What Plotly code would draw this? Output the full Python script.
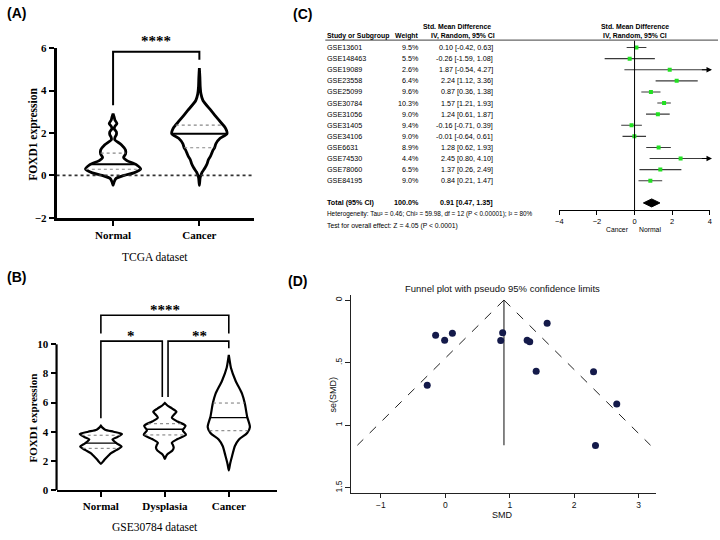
import numpy as np
import plotly.graph_objects as go

W, H = 720, 540

# ---------------- Panel A data (TCGA) ----------------
A_groups = ["Normal", "Cancer"]
A_normal_y = [-0.47, -0.3, -0.15, 0.0, 0.12, 0.3, 0.5, 0.7, 0.85, 1.0, 1.2, 1.45, 1.68, 1.8, 1.92, 2.05, 2.2, 2.3, 2.45, 2.6, 2.75, 2.91]
A_normal_d = [0.0, 0.04, 0.1, 0.4, 0.75, 1.0, 0.85, 0.5, 0.38, 0.45, 0.45, 0.3, 0.06, 0.07, 0.12, 0.12, 0.04, 0.06, 0.14, 0.07, 0.04, 0.0]
A_cancer_y = [-0.47, -0.1, 0.15, 0.35, 0.55, 0.75, 0.9, 1.05, 1.2, 1.3, 1.5, 1.75, 1.96, 2.22, 2.6, 3.06, 3.53, 3.83, 4.2, 4.6, 5.06]
A_cancer_d = [0.0, 0.03, 0.1, 0.2, 0.28, 0.33, 0.4, 0.45, 0.5, 0.55, 0.6, 0.75, 1.0, 0.95, 0.71, 0.42, 0.13, 0.06, 0.03, 0.02, 0.0]
A_median = [0.53, 1.96]
A_q1 = [0.29, 1.30]
A_q3 = [1.05, 2.37]

# ---------------- Panel B data (GSE30784) ----------------
B_groups = ["Normal", "Dysplasia", "Cancer"]
B_normal_y = [1.79, 1.95, 2.13, 2.35, 2.53, 2.75, 2.98, 3.2, 3.47, 3.65, 3.85, 4.0, 4.14, 4.3, 4.41]
B_normal_d = [0.0, 0.1, 0.2, 0.35, 0.48, 0.75, 0.98, 0.75, 0.55, 0.8, 1.0, 0.6, 0.2, 0.06, 0.0]
B_dys_y = [2.13, 2.3, 2.46, 2.7, 2.91, 3.1, 3.24, 3.5, 3.8, 4.09, 4.41, 4.7, 4.97, 5.2, 5.37, 5.59, 5.8, 5.97]
B_dys_d = [0.0, 0.05, 0.12, 0.35, 0.42, 0.38, 0.33, 0.6, 1.0, 0.85, 0.98, 0.6, 0.33, 0.45, 0.55, 0.35, 0.12, 0.0]
B_cancer_y = [1.34, 1.79, 2.35, 3.02, 3.47, 3.91, 4.32, 5.03, 5.93, 6.6, 7.5, 8.39, 8.9, 9.28]
B_cancer_d = [0.0, 0.06, 0.16, 0.29, 0.48, 0.87, 1.0, 0.87, 0.76, 0.63, 0.32, 0.1, 0.04, 0.0]
B_median = [3.22, 4.17, 4.97]
B_q1 = [2.86, 3.78, 4.07]
B_q3 = [3.76, 4.55, 5.97]

# ---------------- Panel C data (forest) ----------------
studies = ["GSE13601", "GSE148463", "GSE19089", "GSE23558", "GSE25099", "GSE30784", "GSE31056",
           "GSE31405", "GSE34106", "GSE6631", "GSE74530", "GSE78060", "GSE84195"]
weights = [9.5, 5.5, 2.6, 6.4, 9.6, 10.3, 9.0, 9.4, 9.0, 8.9, 4.4, 6.5, 9.0]
smd = [0.10, -0.26, 1.87, 2.24, 0.87, 1.57, 1.24, -0.16, -0.01, 1.28, 2.45, 1.37, 0.84]
ci_lo = [-0.42, -1.59, -0.54, 1.12, 0.36, 1.21, 0.61, -0.71, -0.64, 0.62, 0.80, 0.26, 0.21]
ci_hi = [0.63, 1.08, 4.27, 3.36, 1.38, 1.93, 1.87, 0.39, 0.61, 1.93, 4.10, 2.49, 1.47]
pooled, pooled_lo, pooled_hi = 0.91, 0.47, 1.35
forest_ticks = [-4, -2, 0, 2, 4]

# ---------------- Panel D data (funnel) ----------------
funnel_smd = [-0.15, -0.01, 0.11, -0.28, 0.89, 0.86, 1.27, 1.31, 1.58, 1.41, 2.30, 2.66, 2.33]
funnel_se = [0.282, 0.321, 0.266, 0.681, 0.261, 0.324, 0.321, 0.334, 0.185, 0.569, 0.572, 0.830, 1.162]
funnel_max_se = 1.16

fig = go.Figure()

def px_x(p):
    return p / W

def px_y(p):
    return 1 - p / H

def violin(center, ys, dens, half, xa, ya, lw):
    ys = np.array(ys, float)
    d = np.array(dens, float)
    xs = np.concatenate([center + half * d, (center - half * d)[::-1]])
    yy = np.concatenate([ys, ys[::-1]])
    fig.add_trace(go.Scatter(x=xs, y=yy, mode="lines", fill="toself", fillcolor="white",
                             line=dict(color="black", width=lw, shape="spline", smoothing=0.7),
                             xaxis=xa, yaxis=ya, showlegend=False, hoverinfo="skip"))

def hline_in_violin(center, ys, dens, half, yv, xa, ya, color, width, dash):
    w = half * np.interp(yv, ys, dens)
    fig.add_trace(go.Scatter(x=[center - w, center + w], y=[yv, yv], mode="lines",
                             line=dict(color=color, width=width, dash=dash),
                             xaxis=xa, yaxis=ya, showlegend=False, hoverinfo="skip"))

SERIF = "Liberation Serif"
SANS = "Liberation Sans"
CF = 7.2  # forest text size

# ---------- Panel A ----------
A_half = 0.32
A_prof = [(A_normal_y, A_normal_d), (A_cancer_y, A_cancer_d)]
A_xr = [-0.655, 1.632]
fig.add_shape(type="line", xref="x", yref="y", x0=A_xr[0], x1=A_xr[1], y0=0, y1=0,
              line=dict(color="#333", width=1.6, dash="dot"))
for i, (ys, ds) in enumerate(A_prof):
    violin(i, ys, ds, A_half, "x", "y", 2.8)
    for q in (A_q1[i], A_q3[i]):
        hline_in_violin(i, ys, ds, A_half, q, "x", "y", "#888", 1.1, "dot")
    hline_in_violin(i, ys, ds, A_half, A_median[i], "x", "y", "black", 2.0, "solid")
fig.add_trace(go.Scatter(x=[0, 0, 1, 1], y=[3.3, 5.83, 5.83, 5.45], mode="lines",
                         line=dict(color="black", width=2), xaxis="x", yaxis="y",
                         showlegend=False, hoverinfo="skip"))

# ---------- Panel B ----------
B_half = 0.33
B_prof = [(B_normal_y, B_normal_d), (B_dys_y, B_dys_d), (B_cancer_y, B_cancer_d)]
B_xr = [-0.693, 2.749]
B_yr = [0, 12.8]
for i, (ys, ds) in enumerate(B_prof):
    violin(i, ys, ds, B_half, "x2", "y2", 2.2)
    for q in (B_q1[i], B_q3[i]):
        hline_in_violin(i, ys, ds, B_half, q, "x2", "y2", "#777", 1.0, "dot")
    hline_in_violin(i, ys, ds, B_half, B_median[i], "x2", "y2", "black", 1.3, "solid")
brackets_B = [
    ([0, 0, 2, 2], [10.74, 12.0, 12.0, 10.74]),
    ([0, 0, 0.96, 0.96], [4.92, 10.22, 10.22, 6.38]),
    ([1.05, 1.05, 2, 2], [6.38, 10.22, 10.22, 9.73]),
]
for bx, by in brackets_B:
    fig.add_trace(go.Scatter(x=bx, y=by, mode="lines", line=dict(color="black", width=1.6),
                             xaxis="x2", yaxis="y2", showlegend=False, hoverinfo="skip"))
fig.add_shape(type="line", xref="x2 domain", yref="y2 domain", x0=0, x1=0, y0=0, y1=10 / B_yr[1],
              line=dict(color="black", width=2.2))

# ---------- Panel C: forest ----------
rows = list(range(len(studies)))
total_row = len(studies) + 1
for r, l, h in zip(rows, ci_lo, ci_hi):
    fig.add_trace(go.Scatter(x=[l, h], y=[r, r], mode="lines", line=dict(color="#3a3a3a", width=1.1),
                             xaxis="x3", yaxis="y3", showlegend=False, hoverinfo="skip"))
fig.add_trace(go.Scatter(x=smd, y=rows, mode="markers",
                         marker=dict(symbol="square", size=4, color="#22e022"),
                         xaxis="x3", yaxis="y3", showlegend=False, hoverinfo="skip"))
fig.add_trace(go.Scatter(x=[pooled_lo, pooled, pooled_hi, pooled, pooled_lo],
                         y=[total_row, total_row - 0.36, total_row, total_row + 0.36, total_row],
                         mode="lines", fill="toself", fillcolor="black", line=dict(color="black", width=1),
                         xaxis="x3", yaxis="y3", showlegend=False, hoverinfo="skip"))
fig.add_shape(type="line", xref="x3", yref="y3", x0=0, x1=0, y0=-0.66, y1=14.67,
              line=dict(color="black", width=1))
ann = []
xmax_c = forest_ticks[-1]
for r, l, h in zip(rows, ci_lo, ci_hi):
    if h > xmax_c:
        ann.append(dict(x=xmax_c + 0.12, y=r, xref="x3", yref="y3", ax=xmax_c - 0.5, ay=r,
                        axref="x3", ayref="y3", showarrow=True, arrowhead=2, arrowsize=1,
                        arrowwidth=1.1, arrowcolor="black", text=""))

def ctext(text, xpx, y, yref, anchor, bold=False, size=CF):
    ann.append(dict(text=text, x=px_x(xpx), y=y, xref="paper", yref=yref, xanchor=anchor,
                    yanchor="middle", showarrow=False,
                    font=dict(family=SANS, size=size, color="black", weight="bold" if bold else "normal")))

ctext("Std. Mean Difference", 493, px_y(21), "paper", "right", True, 6.9)
ctext("Study or Subgroup", 324, px_y(31), "paper", "left", True, 6.9)
ctext("Weight", 421, px_y(31), "paper", "right", True, 6.9)
ctext("IV, Random, 95% CI", 497, px_y(31), "paper", "right", True, 6.9)
ctext("Std. Mean Difference", 636, px_y(21), "paper", "center", True, 6.9)
ctext("IV, Random, 95% CI", 636, px_y(31), "paper", "center", True, 6.9)
for r, s, wt, m, l, h in zip(rows, studies, weights, smd, ci_lo, ci_hi):
    ctext(s, 324, r, "y3", "left")
    ctext(f"{wt:.1f}%", 421, r, "y3", "right")
    ctext(f"{m:.2f} [{l:.2f}, {h:.2f}]", 495, r, "y3", "right")
ctext("Total (95% CI)", 324, total_row, "y3", "left", True)
ctext("100.0%", 421, total_row, "y3", "right", True)
ctext(f"{pooled:.2f} [{pooled_lo:.2f}, {pooled_hi:.2f}]", 495, total_row, "y3", "right", True)
ctext("Heterogeneity: Tau² = 0.46; Chi² = 59.98, df = 12 (P < 0.00001); I² = 80%", 324, px_y(212.7), "paper", "left", size=6.4)
ctext("Test for overall effect: Z = 4.05 (P < 0.0001)", 324, px_y(225), "paper", "left", size=6.8)
ctext("Cancer", 619, px_y(229), "paper", "center", size=6.8)
ctext("Normal", 651, px_y(229), "paper", "center", size=6.8)
fig.add_shape(type="line", xref="paper", yref="paper", x0=px_x(324), x1=1, y0=px_y(35), y1=px_y(35),
              line=dict(color="#666", width=1.2))

# ---------- Panel D: funnel ----------
se_line = [0, funnel_max_se]
fig.add_trace(go.Scatter(x=[pooled - 1.96 * s for s in se_line], y=se_line, mode="lines",
                         line=dict(color="#222", width=1, dash="dash"), xaxis="x4", yaxis="y4",
                         showlegend=False, hoverinfo="skip"))
fig.add_trace(go.Scatter(x=[pooled + 1.96 * s for s in se_line], y=se_line, mode="lines",
                         line=dict(color="#222", width=1, dash="dash"), xaxis="x4", yaxis="y4",
                         showlegend=False, hoverinfo="skip"))
fig.add_trace(go.Scatter(x=[pooled, pooled], y=se_line, mode="lines",
                         line=dict(color="#222", width=1.1), xaxis="x4", yaxis="y4",
                         showlegend=False, hoverinfo="skip"))
fig.add_trace(go.Scatter(x=funnel_smd, y=funnel_se, mode="markers",
                         marker=dict(size=7, color="#141a4a"), xaxis="x4", yaxis="y4",
                         showlegend=False, hoverinfo="skip"))

# ---------- text annotations (A, B, D, panel labels) ----------
def ptext(text, xpx, ypx, font, angle=0, xanchor="center"):
    ann.append(dict(text=text, x=px_x(xpx), y=px_y(ypx), xref="paper", yref="paper", xanchor=xanchor,
                    yanchor="middle", textangle=angle, showarrow=False, font=font))

def lab(text, xpx, ypx):
    ptext(text, xpx, ypx, dict(family=SANS, size=14, color="black", weight="bold"), xanchor="left")

lab("(A)", 1, 7)
lab("(B)", 1, 277)
lab("(C)", 289, 8)
lab("(D)", 284, 281)

star_font = dict(family=SERIF, size=15, color="black", weight="bold")
ptext("****", 153, 36, star_font)
ptext("****", 162, 311, star_font)
ptext("*", 128, 337, star_font)
ptext("**", 197, 337, star_font)

ptext("FOXD1 expression", 29, 131, dict(family=SERIF, size=11.5, color="black", weight="bold"), angle=-90)
ptext("FOXD1 expression", 29, 421, dict(family=SERIF, size=11, color="black", weight="bold"), angle=-90)
ptext("TCGA dataset", 152, 257, dict(family=SERIF, size=11.5, color="black"))
ptext("GSE30784 dataset", 152, 533, dict(family=SERIF, size=11.5, color="black"))
ptext("Funnel plot with pseudo 95% confidence limits", 503, 289, dict(family=SANS, size=9.5, color="#111"))
ptext("SMD", 503, 521, dict(family=SANS, size=9, color="#111"))
ptext("se(SMD)", 332, 397, dict(family=SANS, size=9, color="#111"), angle=-90)

ab_tick = dict(family=SERIF, size=11, color="black", weight="bold")
fig.update_layout(
    width=W, height=H, margin=dict(l=0, r=0, t=0, b=0),
    paper_bgcolor="white", plot_bgcolor="white", showlegend=False,
    annotations=ann,
    xaxis=dict(domain=[px_x(53), px_x(252)], range=A_xr, tickvals=[0, 1], ticktext=A_groups,
               showline=True, linecolor="black", linewidth=2.6, ticks="outside", ticklen=5, tickwidth=2.4,
               tickcolor="black", tickfont=ab_tick, showgrid=False, zeroline=False, anchor="y"),
    yaxis=dict(domain=[px_y(216.7), px_y(43)], range=[-2, 6], tickvals=[-2, 0, 2, 4, 6],
               showline=True, linecolor="black", linewidth=2.6, ticks="outside", ticklen=5, tickwidth=2.4,
               tickcolor="black", tickfont=ab_tick, showgrid=False, zeroline=False, anchor="x"),
    xaxis2=dict(domain=[px_x(53), px_x(275)], range=B_xr, tickvals=[0, 1, 2], ticktext=B_groups,
                showline=True, linecolor="black", linewidth=2.2, ticks="outside", ticklen=5, tickwidth=2.2,
                tickcolor="black", tickfont=ab_tick, showgrid=False, zeroline=False, anchor="y2"),
    yaxis2=dict(domain=[px_y(495), px_y(304.3)], range=B_yr, tickvals=[0, 2, 4, 6, 8, 10],
                showline=False, ticks="outside", ticklen=5, tickwidth=2.2,
                tickcolor="black", tickfont=ab_tick, showgrid=False, zeroline=False, anchor="x2"),
    xaxis3=dict(domain=[px_x(560), px_x(711.7)], range=[-4, 4], tickvals=forest_ticks,
                showline=True, linecolor="black", linewidth=1, ticks="outside", ticklen=4, tickwidth=1,
                tickcolor="black", tickfont=dict(family=SANS, size=7.5, color="black"),
                showgrid=False, zeroline=False, anchor="y3"),
    yaxis3=dict(domain=[px_y(209), px_y(35)], range=[14.67, -0.66], visible=False, anchor="x3"),
    xaxis4=dict(domain=[px_x(350), px_x(657)], range=[-1.4615, 3.2615], tickvals=[-1, 0, 1, 2, 3],
                showline=True, linecolor="#222", linewidth=1, ticks="outside", ticklen=4, tickwidth=1,
                tickcolor="#222", tickfont=dict(family=SANS, size=8.5, color="#111"),
                showgrid=False, zeroline=False, anchor="y4"),
    yaxis4=dict(domain=[px_y(498), px_y(296)], range=[1.541, -0.037], tickvals=[0, 0.5, 1, 1.5],
                ticktext=["0", ".5", "1", "1.5"], tickangle=-90,
                showline=True, linecolor="#222", linewidth=1, ticks="outside", ticklen=5, tickwidth=1,
                tickcolor="#222", tickfont=dict(family=SANS, size=8.5, color="#111"),
                showgrid=False, zeroline=False, anchor="x4"),
)

fig.write_html("out.html", config={"displayModeBar": False},
               post_script="document.body.style.margin='0px';document.body.style.overflow='hidden';")
